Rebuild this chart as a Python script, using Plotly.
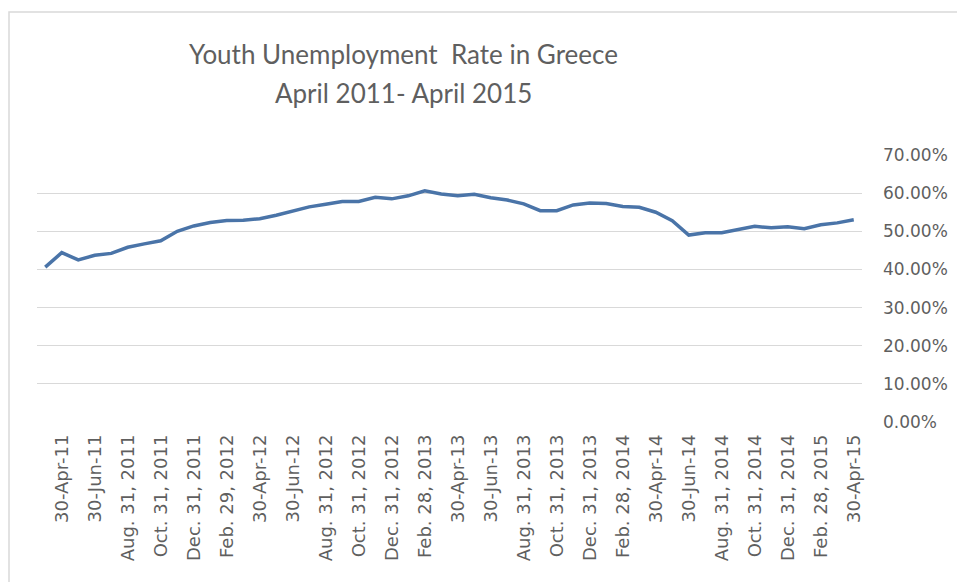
import plotly.graph_objects as go

# Monthly youth unemployment rate in Greece (fraction of labour force)
months = [
    "Mar 2011", "Apr 2011", "May 2011", "Jun 2011", "Jul 2011", "Aug 2011",
    "Sep 2011", "Oct 2011", "Nov 2011", "Dec 2011", "Jan 2012", "Feb 2012",
    "Mar 2012", "Apr 2012", "May 2012", "Jun 2012", "Jul 2012", "Aug 2012",
    "Sep 2012", "Oct 2012", "Nov 2012", "Dec 2012", "Jan 2013", "Feb 2013",
    "Mar 2013", "Apr 2013", "May 2013", "Jun 2013", "Jul 2013", "Aug 2013",
    "Sep 2013", "Oct 2013", "Nov 2013", "Dec 2013", "Jan 2014", "Feb 2014",
    "Mar 2014", "Apr 2014", "May 2014", "Jun 2014", "Jul 2014", "Aug 2014",
    "Sep 2014", "Oct 2014", "Nov 2014", "Dec 2014", "Jan 2015", "Feb 2015",
    "Mar 2015", "Apr 2015",
]

rate = [
    0.406, 0.444, 0.425, 0.437, 0.442, 0.458, 0.467, 0.475, 0.500, 0.514,
    0.523, 0.528, 0.529, 0.533, 0.542, 0.553, 0.564, 0.571, 0.578, 0.578,
    0.589, 0.585, 0.593, 0.606, 0.598, 0.593, 0.597, 0.588, 0.582, 0.572,
    0.554, 0.554, 0.569, 0.574, 0.573, 0.565, 0.563, 0.550, 0.528, 0.490,
    0.496, 0.496, 0.505, 0.513, 0.509, 0.512, 0.507, 0.517, 0.522, 0.530,
]

# Every second month carries a label
tick_months = months[1::2]
tick_labels = [
    "30-Apr-11", "30-Jun-11", "Aug. 31, 2011", "Oct. 31, 2011", "Dec. 31, 2011",
    "Feb. 29, 2012", "30-Apr-12", "30-Jun-12", "Aug. 31, 2012", "Oct. 31, 2012",
    "Dec. 31, 2012", "Feb. 28, 2013", "30-Apr-13", "30-Jun-13", "Aug. 31, 2013",
    "Oct. 31, 2013", "Dec. 31, 2013", "Feb. 28, 2014", "30-Apr-14", "30-Jun-14",
    "Aug. 31, 2014", "Oct. 31, 2014", "Dec. 31, 2014", "Feb. 28, 2015", "30-Apr-15",
]

title_lines = ["Youth Unemployment  Rate in Greece", "April 2011- April 2015"]

W, H = 957, 582
M_L, M_R, M_T, M_B = 37, 95, 155, 160
PLOT_W = W - M_L - M_R
PLOT_H = H - M_T - M_B


def px_x(px):
    return (px - M_L) / PLOT_W


def px_y(py):
    return (H - M_B - py) / PLOT_H


GREY = "#5f5f5f"
GRID = "#d9d9d9"
TICK_FONT = "DejaVu Sans, sans-serif"
TITLE_FONT = "Lato, sans-serif"

fig = go.Figure(
    go.Scatter(
        x=months,
        y=rate,
        mode="lines",
        line=dict(color="#4a74a8", width=3.5),
        hoverinfo="x+y",
    )
)

fig.update_layout(
    width=W,
    height=H,
    margin=dict(l=M_L, r=M_R, t=M_T, b=M_B, pad=0, autoexpand=False),
    paper_bgcolor="white",
    plot_bgcolor="white",
    showlegend=False,
    font=dict(family=TICK_FONT, color=GREY),
    xaxis=dict(
        type="category",
        categoryorder="array",
        categoryarray=months,
        range=[-0.5, len(months) - 0.5],
        tickmode="array",
        tickvals=tick_months,
        ticktext=tick_labels,
        tickangle=-90,
        tickfont=dict(size=18, color=GREY, family=TICK_FONT),
        showgrid=False,
        zeroline=False,
        showline=False,
        ticks="",
        ticklabelstandoff=8,
        automargin=False,
    ),
    yaxis=dict(
        side="right",
        range=[0, 0.7],
        dtick=0.1,
        tick0=0,
        tickformat=".2%",
        tickfont=dict(size=17, color=GREY, family=TICK_FONT),
        gridcolor=GRID,
        gridwidth=1,
        zeroline=False,
        showline=False,
        ticks="",
        ticklabelstandoff=20,
        automargin=False,
    ),
    annotations=[
        dict(
            text=line,
            xref="paper",
            yref="paper",
            x=px_x(403),
            y=px_y(yc),
            xanchor="center",
            yanchor="middle",
            showarrow=False,
            font=dict(size=26, color=GREY, family=TITLE_FONT),
        )
        for line, yc in zip(title_lines, (54, 93))
    ],
    shapes=[
        # chart-area frame (top and left edges fall inside the page)
        dict(
            type="rect",
            xref="paper",
            yref="paper",
            x0=px_x(9),
            y0=px_y(H + 20),
            x1=px_x(W + 20),
            y1=px_y(12),
            line=dict(color=GRID, width=1.5),
            fillcolor="rgba(0,0,0,0)",
            layer="below",
        )
    ],
)

fig.write_html("out.html")
